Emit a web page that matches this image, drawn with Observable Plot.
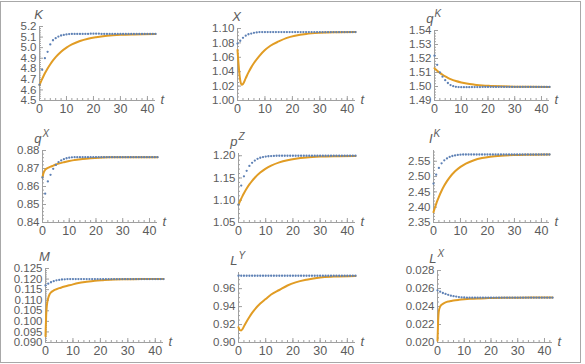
<!DOCTYPE html>
<html><head><meta charset="utf-8">
<script src="https://cdn.jsdelivr.net/npm/d3@7"></script>
<script src="https://cdn.jsdelivr.net/npm/@observablehq/plot@0.6"></script>
<style>
body{margin:0;background:#fff;}
#wrap{position:relative;width:585px;height:364px;overflow:hidden;background:#fff;}
#frame{position:absolute;left:0;top:1px;width:581px;height:362px;border:1.5px solid #a8a8a8;box-sizing:border-box;}
.panel{position:absolute;}
</style></head><body><div id="wrap"><div id="frame"></div></div>
<script>
// time grids
const tDots = [0,1,2,3,4,5,6,7,8,9,10,11,12,13,14,15,16,17,18,19,20,21,22,23,24,25,26,27,28,29,30,31,32,33,34,35,36,37,38,39,40,41,42,43];
const tLine = [0,0.25,0.5,1,1.5,2,3,4,5,6,8,10,12,15,18,21,25,30,35,43];
const xTicks = [0,10,20,30,40];

// K
const kDots = [4.65,4.79,4.90,4.96,5.03,5.07,5.09,5.105,5.115,5.12,5.125,5.128,5.13,5.13,5.13,5.13,5.13,5.13,5.13,5.132,5.132,5.132,5.132,5.13,5.13,5.13,5.13,5.13,5.13,5.13,5.13,5.13,5.13,5.13,5.13,5.13,5.13,5.13,5.13,5.13,5.13,5.13,5.13,5.13];
const kLine = [4.645,4.661,4.676,4.705,4.732,4.757,4.803,4.843,4.879,4.910,4.961,5.000,5.030,5.063,5.085,5.099,5.112,5.121,5.125,5.128];
const kTicks = [4.5,4.6,4.7,4.8,4.9,5.0,5.1,5.2];
// X
const xDots = [1.079,1.083,1.087,1.090,1.092,1.093,1.094,1.0945,1.095,1.095,1.095,1.095,1.095,1.095,1.095,1.095,1.095,1.095,1.095,1.095,1.095,1.095,1.095,1.095,1.095,1.095,1.095,1.095,1.095,1.095,1.095,1.095,1.095,1.095,1.095,1.095,1.095,1.095,1.095,1.095,1.095,1.095,1.095,1.095];
const xLine = [1.070,1.057,1.045,1.028,1.022,1.023,1.031,1.039,1.046,1.052,1.062,1.070,1.076,1.082,1.087,1.090,1.0925,1.094,1.0947,1.095];
const xValTicks = [1.00,1.02,1.04,1.06,1.08,1.10];
// qK
const qkDots = [1.522,1.5155,1.510,1.507,1.5045,1.5025,1.501,1.5002,1.4998,1.4996,1.4995,1.4995,1.4995,1.4995,1.4996,1.4996,1.4996,1.4996,1.4997,1.4997,1.4997,1.4997,1.4997,1.4997,1.4997,1.4997,1.4997,1.4997,1.4997,1.4997,1.4997,1.4997,1.4997,1.4997,1.4997,1.4997,1.4997,1.4997,1.4997,1.4997,1.4997,1.4997,1.4997,1.4997];
const qkLine = [1.5130,1.5125,1.5121,1.5112,1.5104,1.5097,1.5084,1.5072,1.5062,1.5053,1.5039,1.5029,1.5021,1.5013,1.5007,1.5004,1.5001,1.4999,1.4998,1.4997];
const qkTicks = [1.49,1.50,1.51,1.52,1.53,1.54];
// qX
const qxDots = [0.865,0.856,0.8628,0.8665,0.8698,0.872,0.8735,0.8745,0.8752,0.8757,0.876,0.8762,0.8763,0.8763,0.8763,0.8763,0.8763,0.8763,0.8763,0.8763,0.8763,0.8763,0.8763,0.8763,0.8763,0.8763,0.8763,0.8763,0.8763,0.8763,0.8763,0.8763,0.8763,0.8763,0.8763,0.8763,0.8763,0.8763,0.8763,0.8763,0.8763,0.8763,0.8763,0.8763];
const qxLine = [0.8650,0.8668,0.8680,0.8693,0.8699,0.8703,0.8710,0.8716,0.8722,0.8727,0.8735,0.8742,0.8747,0.8753,0.8757,0.8760,0.8762,0.8763,0.8763,0.8763];
const qxTicks = [0.84,0.85,0.86,0.87,0.88];
// pZ
const pzDots = [1.090,1.133,1.1537,1.166,1.177,1.184,1.189,1.193,1.1955,1.197,1.198,1.1988,1.1993,1.1996,1.2,1.2,1.2,1.2,1.2,1.2,1.2,1.2,1.2,1.2,1.2,1.2,1.2,1.2,1.2,1.2,1.2,1.2,1.2,1.2,1.2,1.2,1.2,1.2,1.2,1.2,1.2,1.2,1.2,1.2];
const pzLine = [1.0900,1.0936,1.0971,1.1037,1.1099,1.1157,1.1263,1.1355,1.1435,1.1506,1.1621,1.1710,1.1778,1.1851,1.1900,1.1933,1.1961,1.1980,1.1990,1.1996];
const pzTicks = [1.05,1.10,1.15,1.20];
// IK
const ikDots = [2.477,2.506,2.528,2.543,2.553,2.559,2.564,2.567,2.569,2.5705,2.5715,2.572,2.572,2.572,2.572,2.572,2.572,2.572,2.572,2.572,2.572,2.572,2.572,2.572,2.572,2.572,2.572,2.572,2.572,2.572,2.572,2.572,2.572,2.572,2.572,2.572,2.572,2.572,2.572,2.572,2.572,2.572,2.572,2.572];
const ikLine = [2.384,2.391,2.398,2.411,2.423,2.434,2.4535,2.4704,2.485,2.4973,2.5171,2.5316,2.5423,2.5533,2.5602,2.5646,2.568,2.5701,2.5711,2.5718];
const ikTicks = [2.35,2.40,2.45,2.50,2.55];
// M
const mDots = [0.117,0.1178,0.1185,0.119,0.1194,0.1196,0.1198,0.1199,0.12,0.12,0.12,0.12,0.12,0.12,0.12,0.12,0.12,0.12,0.12,0.12,0.12,0.12,0.12,0.12,0.12,0.12,0.12,0.12,0.12,0.12,0.12,0.12,0.12,0.12,0.12,0.12,0.12,0.12,0.12,0.12,0.12,0.12,0.12,0.12];
const mLine = [0.0930,0.1030,0.1075,0.1110,0.1128,0.1137,0.1146,0.1152,0.1157,0.1161,0.1168,0.1175,0.1181,0.1187,0.1192,0.1195,0.1198,0.1199,0.1200,0.1200];
const mTicks = [0.090,0.095,0.100,0.105,0.110,0.115,0.120,0.125];
// LY
const lyDots = [0.9744,0.9744,0.9744,0.9744,0.9744,0.9744,0.9744,0.9744,0.9744,0.9744,0.9744,0.9744,0.9744,0.9744,0.9744,0.9744,0.9744,0.9744,0.9744,0.9744,0.9744,0.9744,0.9744,0.9744,0.9744,0.9744,0.9744,0.9744,0.9744,0.9744,0.9744,0.9744,0.9744,0.9744,0.9744,0.9744,0.9744,0.9744,0.9744,0.9744,0.9744,0.9744,0.9744,0.9744];
const lyLine = [0.9170,0.9150,0.9138,0.9135,0.9150,0.9180,0.9235,0.9285,0.9330,0.9370,0.9435,0.9485,0.9535,0.9585,0.9635,0.9670,0.9700,0.9725,0.9735,0.9742];
const lyTicks = [0.90,0.92,0.94,0.96];
// LX
const lxDots = [0.0258,0.02565,0.0255,0.0254,0.0253,0.0252,0.02515,0.0251,0.02505,0.02502,0.0250,0.02498,0.02498,0.02498,0.02498,0.02498,0.02498,0.02498,0.02498,0.02498,0.02498,0.02498,0.02498,0.02498,0.02498,0.02498,0.02498,0.02498,0.02498,0.02498,0.02498,0.02498,0.02498,0.02498,0.02498,0.02498,0.02498,0.02498,0.02498,0.02498,0.02498,0.02498,0.02498,0.02498];
const lxLine = [0.0202,0.0225,0.0235,0.0240,0.0242,0.0243,0.02445,0.02455,0.0246,0.02466,0.02474,0.0248,0.02485,0.0249,0.02493,0.02495,0.02497,0.02498,0.02499,0.0250];
const lxTicks = [0.020,0.022,0.024,0.026,0.028];

const blue = "#5E81B5", orange = "#E19C24", axisCol = "#a0a0a0", textCol = "#5c5c5c";

// layout: [x at t=0, x at t=43, y top, y bottom] in page pixels
const panels = [
  {base:"K", sup:"", dots:kDots, line:kLine, ticks:kTicks, dec:1, minor:0.02, domain:[4.5,5.2], box:[39,155,26,100]},
  {base:"X", sup:"", dots:xDots, line:xLine, ticks:xValTicks, dec:2, minor:0.005, domain:[1.0,1.10], box:[237,355,28,100]},
  {base:"q", sup:"K", dots:qkDots, line:qkLine, ticks:qkTicks, dec:2, minor:0.002, domain:[1.49,1.54], box:[434,549,30,100]},
  {base:"q", sup:"X", dots:qxDots, line:qxLine, ticks:qxTicks, dec:2, minor:0.002, domain:[0.84,0.88], box:[42,157,150,222]},
  {base:"p", sup:"Z", dots:pzDots, line:pzLine, ticks:pzTicks, dec:2, minor:0.01, domain:[1.05,1.205], box:[238,355,153,222]},
  {base:"I", sup:"K", dots:ikDots, line:ikLine, ticks:ikTicks, dec:2, minor:0.01, domain:[2.35,2.585], box:[433,549,150,222]},
  {base:"M", sup:"", dots:mDots, line:mLine, ticks:mTicks, dec:3, minor:0.001, domain:[0.09,0.125], box:[45,163,268,342]},
  {base:"L", sup:"Y", dots:lyDots, line:lyLine, ticks:lyTicks, dec:2, minor:0.005, domain:[0.90,0.978], box:[238,355,272,342]},
  {base:"L", sup:"X", dots:lxDots, line:lxLine, ticks:lxTicks, dec:3, minor:0.0005, domain:[0.020,0.028], box:[437,552,270,342]}
];

const ML = 42, MR = 20, MT = 26, MB = 18;
const wrap = document.getElementById("wrap");
const xMinor = d3.range(0, 43.0001, 2);

for (const p of panels) {
  const [x0, x1, yT, yB] = p.box;
  const W = x1 - x0 + ML + MR, H = yB - yT + MT + MB;
  const lo = p.domain[0], hi = p.domain[1];
  const dots = tDots.map((t, i) => ({t, v: p.dots[i]}));
  const line = tLine.map((t, i) => ({t, v: p.line[i]}));
  const nMinor = Math.floor((hi - lo) / p.minor + 1e-6);
  const yMinor = d3.range(0, nMinor + 1).map(i => lo + i * p.minor);
  const marks = [
    Plot.ruleY([lo], {stroke: axisCol, strokeWidth: 1}),
    Plot.ruleX([0], {stroke: axisCol, strokeWidth: 1}),
    Plot.ruleX(xMinor, {x: d => d, y1: () => lo, y2: () => lo, insetTop: 0, insetBottom: 2, stroke: axisCol}),
    Plot.ruleX(xTicks, {x: d => d, y1: () => lo, y2: () => lo, insetTop: 0, insetBottom: 4, stroke: axisCol}),
    Plot.ruleY(yMinor, {y: d => d, x1: () => 0, x2: () => 0, insetLeft: 0, insetRight: -2, stroke: axisCol}),
    Plot.ruleY(p.ticks, {y: d => d, x1: () => 0, x2: () => 0, insetLeft: 0, insetRight: -4, stroke: axisCol}),
    Plot.axisX({ticks: xTicks, tickSize: 0, tickPadding: 4, label: null, fontSize: 12.5, tickFormat: d => String(d)}),
    Plot.axisY({ticks: p.ticks, tickSize: 0, tickPadding: 3, label: null, tickFormat: d => d.toFixed(p.dec)}),
    Plot.line(line, {x: "t", y: "v", stroke: orange, strokeWidth: 2, curve: "monotone-x"}),
    Plot.dot(dots, {x: "t", y: "v", r: 1.15, fill: blue, stroke: null}),
    Plot.text(["t"], {frameAnchor: "bottom-right", text: d => d, dx: 5, dy: -1, textAnchor: "start", lineAnchor: "middle", fontStyle: "italic", fontSize: 13})
  ];
  if (p.sup) {
    marks.push(Plot.text([p.base], {frameAnchor: "top-left", text: d => d, dx: -1, dy: -12, textAnchor: "end", lineAnchor: "middle", fontStyle: "italic", fontSize: 13}));
    marks.push(Plot.text([p.sup], {frameAnchor: "top-left", text: d => d, dx: 0, dy: -17, textAnchor: "start", lineAnchor: "middle", fontStyle: "italic", fontSize: 10}));
  } else {
    marks.push(Plot.text([p.base], {frameAnchor: "top-left", text: d => d, dx: -1, dy: -12, textAnchor: "middle", lineAnchor: "middle", fontStyle: "italic", fontSize: 13}));
  }
  const chart = Plot.plot({
    width: W, height: H,
    marginLeft: ML, marginRight: MR, marginTop: MT, marginBottom: MB,
    x: {domain: [0, 43], label: null},
    y: {domain: p.domain, label: null},
    style: {fontFamily: "'Liberation Sans', Arial, sans-serif", fontSize: "11.5px", color: textCol, background: "transparent", overflow: "visible"},
    marks
  });
  chart.classList.add("panel");
  chart.style.left = (x0 - ML) + "px";
  chart.style.top = (yT - MT) + "px";
  chart.style.position = "absolute";
  wrap.appendChild(chart);
}
</script>
</body></html>
